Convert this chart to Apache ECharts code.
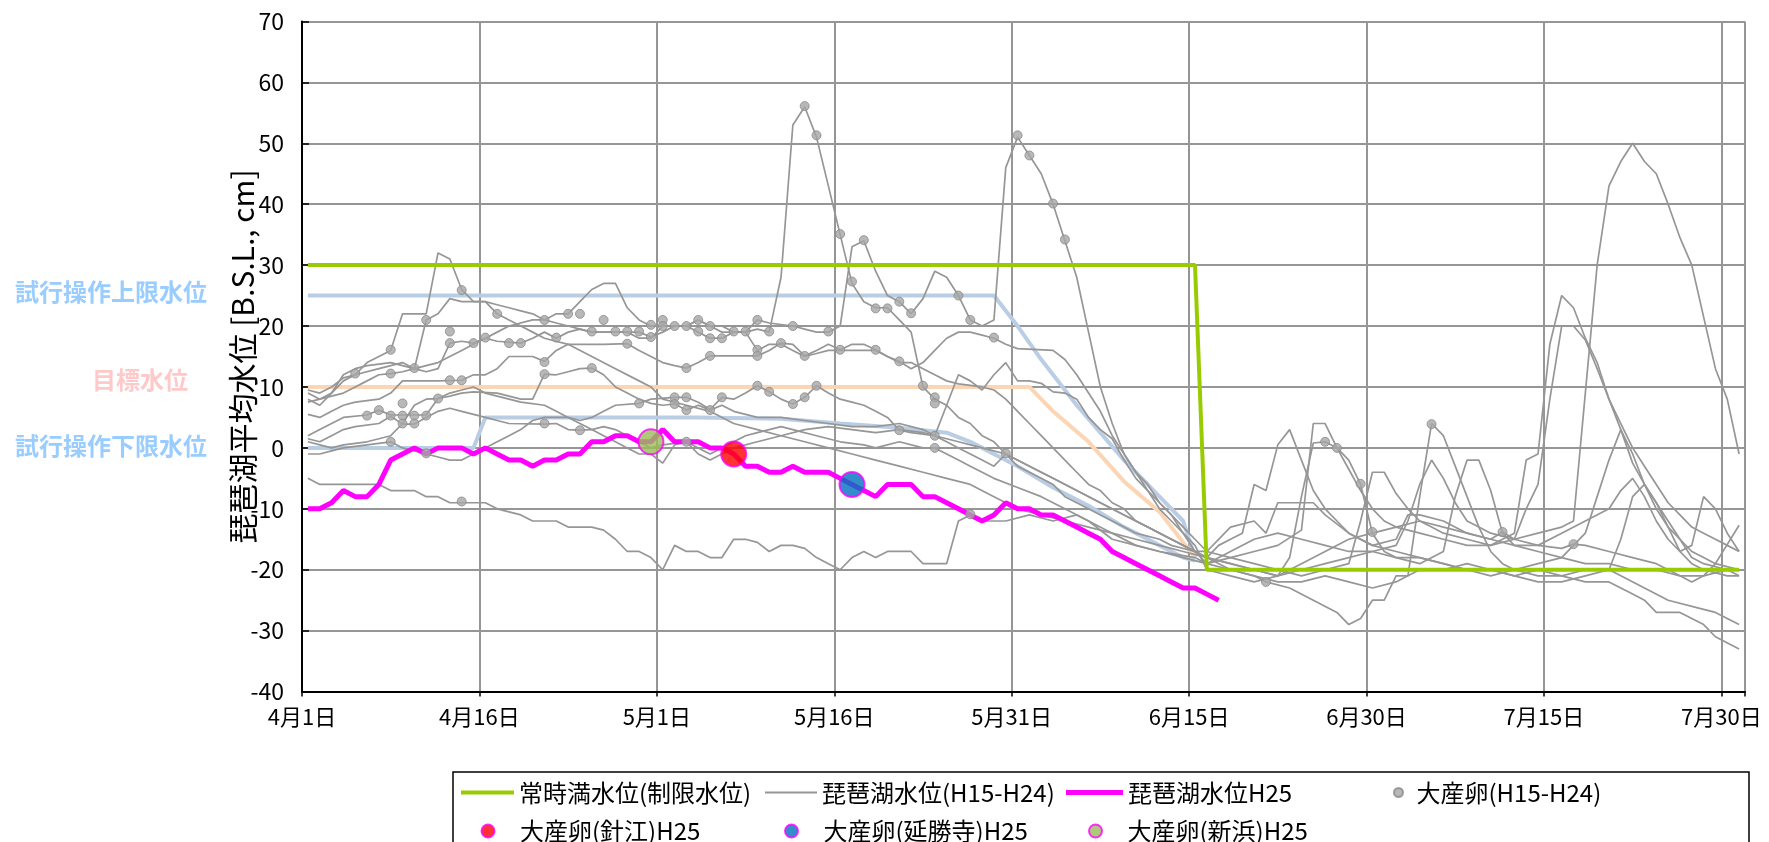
<!DOCTYPE html>
<html><head><meta charset="utf-8">
<script src="https://cdn.jsdelivr.net/npm/echarts@6/dist/echarts.min.js"></script>
<style>html,body{margin:0;padding:0;background:#fff}#c{width:1769px;height:842px}</style>
</head><body><div id="c"></div>
<script>
// ---- tick labels (days from 4月1日) ----
const tickLabels = ['4月1日','4月16日','5月1日','5月16日','5月31日','6月15日','6月30日','7月15日','7月30日'];

// ---- reference levels [day, cm] ----
const fullLevel   = [[0,30],[75,30],[76,-20],[121,-20]];
const upperLimit  = [[0,25],[58,25],[60,20],[62,14.5],[65,7],[69,-2],[72,-8],[74,-12],[75,-18]];
const targetLevel = [[0,10],[61,10],[63,6],[66,1],[69,-5.5],[72,-10.5],[75,-18]];
const lowerLimit  = [[0,0],[14,0],[15,5],[33,5],[40,4.8],[45,4],[50,3.3],[54,2.5],[56,1],[57,0],[60,-3],[63,-6.5],[66,-9.5],[69,-13],[72,-16],[74,-18],[75,-18.5]];

// ---- H25 daily level from 4月1日 ----
const h25Level = [-10,-10,-9,-7,-8,-8,-6,-2,-1,0,-1,0,0,0,-1,0,-1,-2,-2,-3,-2,-2,-1,-1,1,1,2,2,1,1,3,1,1,1,0,0,-1,-3,-3,-4,-4,-3,-4,-4,-4,-5,-6,-7,-8,-6,-6,-6,-8,-8,-9,-10,-11,-12,-11,-9,-10,-10,-11,-11,-12,-13,-14,-15,-17,-18,-19,-20,-21,-22,-23,-23,-24,-25];

// ---- H15-H24 levels [day, cm] ----
const past1 = [[0,-5],[1,-6],[6,-6],[7,-7],[9,-7],[10,-8],[11,-8],[12,-9],[15,-9],[16,-10],[17,-10.5],[18,-11],[19,-12],[21,-12],[22,-13],[24,-13],[25,-13.5],[26,-15],[27,-17],[28,-17],[29,-18],[30,-20],[31,-16],[32,-17],[33,-17],[34,-18],[35,-18],[36,-15],[37,-15],[38,-15.5],[39,-17],[40,-16],[41,-16],[42,-16.5],[43,-18],[44,-19],[45,-20],[46,-18],[47,-17],[48,-18],[49,-17],[51,-17],[52,-19],[54,-19],[55,-12],[56,-11],[57,-12],[59,-12],[61,-11],[63,-12],[65,-11],[66,-12],[68,-15],[70,-16],[72,-17],[74,-18],[76,-19],[78,-20],[80,-21],[81,-22],[83,-23],[85,-25],[87,-27],[88,-29],[89,-28],[90,-25],[91,-25],[92,-21],[93,-21],[94,-20],[96,-20],[98,-19],[100,-20],[102,-21],[104,-20],[106,-21],[108,-22],[110,-22],[111,-23],[112,-24],[113,-25],[114,-27],[116,-27],[117,-28],[118,-29],[119,-31],[121,-33]];
const past2 = [[0,8],[1,7],[2,9],[3,11],[4,12],[5,14],[6,15],[7,16],[8,22],[10,22],[11,32],[12,31],[13,26],[14,24],[15,24],[16,22],[17,21],[18,20],[19,19],[20,18],[22,17],[24,15],[26,13],[28,11],[29,10],[30,8],[32,7],[34,6],[36,4],[38,3],[40,2],[42,1],[44,0],[46,-1],[48,-2],[50,-3],[52,-4],[54,-5],[56,-6],[58,-8],[60,-10],[62,-11],[64,-12],[66,-13],[68,-14],[70,-15],[72,-16],[74,-17],[76,-18],[78,-20],[80,-21],[82,-22],[84,-22],[86,-21],[88,-22],[90,-23],[92,-22],[93,-21],[94,-8],[95,4],[96,2],[97,-3],[98,-8],[99,-13],[100,-17],[101,-19],[102,-20],[104,-21],[106,-21],[108,-20],[110,-20],[111,-21],[113,-23],[115,-25],[118,-26.5],[119,-27],[121,-29]];
const past3 = [[0,9.5],[1,9],[2,10],[3,11.5],[4,12],[6,13],[8,14],[9,13],[10,13.5],[11,14],[12,15],[13,16],[14,17],[15,18],[16,19],[17,20],[19,21],[20,21],[21,22],[22,22],[23,24],[24,26],[25,27],[26,27],[27,23],[28,21],[29,20],[30,20],[32,20],[33,21],[34,20],[35,19],[37,19],[38,19.5],[39,19],[40,28],[41,53],[42,56],[43,51],[44,43],[45,35],[46,27],[47,24],[48,23],[49,23],[50,21],[51,19],[52,10],[53,8],[54,7],[55,5],[56,4],[57,2],[58,1],[59,-1],[61,-3],[63,-5],[65,-7],[67,-9],[69,-11],[71,-13],[73,-15],[75,-17],[76,-18],[77,-16],[78,-15],[79,-14],[80,-6],[81,-7],[82,0.5],[83,3],[84,-2],[85,-7],[86,-10],[87,-12],[88,-14],[89,-15],[90,-16],[92,-17],[94,-18],[96,-19],[98,-20],[100,-21],[102,-20],[104,-19],[106,-18],[108,-14],[109,-8],[110,-2],[111,3],[112,-1],[113,-6],[114,-10],[115,-13],[116,-15],[117,-17],[118,-18],[119,-19],[121,-20]];
const past4 = [[0,9],[1,8],[2,8.5],[3,9],[4,10],[5,11],[6,12],[7,12.2],[8,12.5],[9,13],[10,21],[11,22],[12,24.5],[13,24],[15,24],[16,23.5],[17,23],[18,22.5],[19,22],[20,21],[21,20.5],[22,20],[23,19.5],[24,19],[27,19],[28,18],[29,18],[30,20],[32,20],[33,21],[34,20],[35,20],[36,19],[37,19],[38,21],[39,20.5],[41,20],[42,19.5],[43,19],[44,19],[45,20],[46,33],[47,34],[48,29],[49,25],[50,24],[51,22],[52,24.5],[53,29],[54,28],[55,25],[56,21],[57,20],[58,21],[59,46],[60,51],[61,48],[62,45],[63,40],[64,34],[65,28],[66,19],[67,10],[68,4],[69,-1],[70,-4],[71,-7],[72,-9],[73,-11],[74,-14],[75,-17],[76,-19],[78,-18],[80,-17],[82,-16],[84,-13.5],[85,4],[86,4],[87,0],[88,-3.5],[89,-7],[90,-10],[91,-12],[92,-13],[94,-14],[96,-15],[98,-16],[100,-16],[102,-15],[103,-10],[104,-6],[105,8],[106,20],[107,20],[108,17.7],[109,13],[110,8],[111,4],[112,0],[113,-3],[114,-6],[115,-9],[116,-11],[117,-13],[118,-14],[119,-15],[120,-16],[121,-17]];
const past5 = [[0,7.5],[1,8],[2,9],[3,12],[4,13],[5,13.5],[7,14],[8,13.5],[9,13],[10,12.5],[11,13],[12,17.2],[13,17.5],[14,17.2],[15,18],[16,17.5],[18,17.2],[19,18],[20,19],[21,18],[22,19],[23,19.5],[24,19],[28,19],[29,18.2],[30,19],[31,20],[32,20],[33,19],[34,18],[35,18],[36,19],[37,19],[38,16],[39,17],[40,17],[41,16],[42,15],[43,15.5],[44,16],[48,16],[49,15],[50,14],[51,14],[52,13],[53,12],[54,11],[55,10.5],[57,10],[58,9.5],[59,8],[60,6],[61,4],[62,2],[63,0],[64,-2],[65,-4],[66,-6],[67,-7],[68,-9],[69,-10],[70,-12],[71,-13],[72,-14],[73,-15],[74,-16],[75,-17],[76,-18],[78,-19],[80,-20],[82,-21],[83,-18],[84,-8],[85,0.8],[86,1],[87,0],[88,-2],[89,-6],[90,-14],[91,-17],[92,-18],[94,-19],[96,-17],[97,-8],[98,-2],[99,-2],[100,-7],[101,-14],[102,-16],[104,-17],[106,-18],[108,-19],[110,-19],[112,-20],[114,-20],[116,-21],[118,-21],[120,-20],[121,-20]];
const past6 = [[0,5.5],[1,5],[2,6],[3,7],[4,7.5],[6,8],[7,9],[8,11],[11,11],[13,11.1],[14,12],[15,12],[16,13],[17,15],[19,15],[20,14.2],[21,16],[22,17],[25,17],[27,17.1],[28,16],[29,15],[30,14],[31,13.5],[32,13.1],[33,14],[34,15.1],[38,15.1],[39,16],[40,17.2],[41,17],[42,15.1],[43,16],[44,17],[45,16.1],[46,17],[47,17],[48,16.1],[49,15],[50,14.2],[51,13],[52,14],[53,16],[54,18],[55,19],[56,19],[57,18.5],[58,18],[59,17],[60,16.3],[63,16],[64,14.5],[65,12],[66,9],[67,6],[68,2],[69,-1],[70,-4],[71,-6],[72,-9],[73,-11],[74,-13],[75,-15],[76,-17],[78,-18],[80,-19],[82,-20],[84,-21],[86,-20],[88,-19],[89,-12],[90,-4],[91,-4],[92,-7.5],[93,-10],[94,-12],[95,-13],[96,-14],[98,-15],[100,-16],[101,-15],[102,-14],[103,-2],[104,-1],[105,17],[106,25],[107,23],[108,18],[109,14],[110,8],[111,3],[112,-2.5],[113,-6],[114,-9],[115,-12],[116,-15],[117,-18],[118,-19],[120,-20],[121,-21]];
const past7 = [[0,2],[1,3],[2,4],[3,5],[5,5.4],[6,6.2],[7,5.4],[10,5.4],[11,8.1],[12,9],[13,9.5],[14,10],[15,9],[16,8.5],[17,8],[18,7.5],[20,7],[21,6],[22,5],[23,4.5],[24,5],[25,6],[26,7],[28,7.3],[29,8],[31,8.3],[32,8.3],[33,7.5],[34,6.3],[35,8.3],[36,8],[37,9],[38,10.2],[39,9.2],[40,8],[41,7.2],[42,8.3],[43,10.2],[44,9],[45,8],[46,7.5],[47,7],[48,6],[49,5],[50,2.9],[51,2.5],[53,2],[54,1],[55,0],[56,-1],[57,-2],[58,-3],[59,-1],[60,-3],[61,-4],[62,-5],[63,-6],[64,-8],[65,-9],[66,-10],[67,-11],[68,-12],[69,-13],[70,-14],[72,-15],[73,-16],[75,-17],[76,-18],[78,-19],[80,-20],[82,-21],[84,-20],[86,-19],[88,-18],[90,-17],[92,-16],[93,-12],[94,-6],[95,-2],[96,-5],[97,-9],[98,-12],[99,-13],[100,-14],[102,-15],[104,-14],[106,-13],[107,-12],[108,9],[109,30],[110,43],[111,47],[112,50],[113,47],[114,45],[115,40],[116,34.5],[117,30],[118,21.5],[119,13],[120,8],[121,-1]];
const past8 = [[0,1.5],[1,1],[2,2],[3,3],[4,3.5],[6,4],[7,5.2],[8,3.9],[9,3.9],[10,5],[11,6],[12,6.5],[13,6],[14,5.5],[15,5],[16,4.5],[17,4],[20,3.9],[21,4],[22,3],[23,2.9],[24,3],[25,3.5],[26,3],[27,2],[28,1],[29,0],[30,0.5],[32,1],[33,0],[34,-1],[35,0],[36,1],[37,2],[38,2.5],[39,3],[40,3.5],[41,3],[43,2],[45,1],[47,0.5],[48,0],[50,1],[52,0],[53,0],[54,-1],[55,-2],[56,-3],[57,-4],[58,-5],[60,-6.5],[62,-8],[64,-10],[66,-12],[68,-14],[70,-16],[72,-17],[75,-18],[76,-19],[78,-17],[80,-15],[82,-14],[84,-15],[86,-16],[88,-17],[90,-17],[92,-18],[94,-18],[96,-19],[98,-20],[100,-20],[102,-21],[104,-22],[106,-22],[108,-21],[110,-20],[111,-15],[112,-8],[113,-6],[114,-9],[115,-13],[116,-17],[117,-19],[118,-20],[120,-21],[121,-21]];
const past9 = [[0,-1],[1,-1],[2,-0.5],[3,0],[5,0.5],[7,1],[8,0],[9,-0.5],[10,-1],[11,-1.5],[12,-2],[13,-2],[14,-1],[15,0],[16,1],[17,2],[18,3],[19,4.5],[20,5],[22,5],[23,4],[24,3],[25,2],[26,1],[27,0],[28,-1],[29,-1],[30,-2.5],[31,0.5],[32,1],[33,-1],[34,-2],[35,-1],[36,0],[38,1],[40,2],[42,3],[44,3.5],[46,3],[48,2.5],[50,3],[52,2.5],[53,2],[55,1],[57,0],[59,-1],[61,-3],[63,-5],[65,-7],[67,-9],[69,-11],[71,-13],[73,-15],[75,-17],[76,-17],[78,-13],[80,-12],[81,-14],[82,-9],[85,-9],[86,-11],[88,-14],[90,-16],[92,-15],[93,-11],[94,-11],[96,-12],[98,-14],[100,-15],[101,-13.8],[102,-15],[104,-16],[106,-16.5],[107,-15.8],[108,-16],[110,-17],[112,-18],[114,-19],[116,-21],[117,-22],[118,-21],[119,-19],[121,-12.7]];
const past10 = [[0,1],[1,0.5],[2,0],[3,0.5],[5,1],[6,1.5],[7,2],[8,4],[9,7],[10,8],[11,8.1],[12,8.5],[13,9],[14,9.2],[16,9],[17,8.5],[18,8],[19,8],[20,12.1],[21,12],[22,12.5],[23,13],[24,13.1],[25,12],[26,10],[27,9],[28,8],[29,7.3],[30,7],[31,7.2],[32,6.2],[33,7],[34,6.2],[35,7],[36,6],[37,5.5],[38,5],[40,5],[42,4.5],[44,4],[46,3.5],[48,3.5],[50,4],[52,3],[53,2],[54,7],[55,12],[56,11],[57,9.5],[58,12],[59,14],[60,11],[61,11],[62,10.6],[63,9.2],[64,9],[65,8],[66,5],[67,3],[68,1.5],[69,-2],[70,-5],[71,-7],[72,-10],[73,-12],[74,-14],[75,-16],[76,-20],[78,-21],[80,-22],[82,-21],[84,-19],[86,-17],[88,-15],[90,-14],[92,-13],[94,-12],[96,-13],[98,-14],[100,-15],[102,-16],[104,-16],[106,-14],[108,-12],[110,-10],[111,-7],[112,-5],[113,-8],[114,-12],[115,-15],[116,-17],[117,-16],[118,-8],[119,-10],[120,-14],[121,-17]];

// ---- spawning events [day, cm] ----
const spawnPast = [[4,12.2],[7,16.1],[10,21],[13,25.9],[16,22],[12,19.1],[12,17.2],[14,17.2],[15,18.1],[17,17.2],[18,17.2],[9,13.1],[7,12.2],[12,11.1],[13,11.1],[11,8.1],[6,6.2],[5,5.3],[7,5.3],[8,5.3],[9,5.3],[10,5.3],[8,7.3],[8,4],[9,4],[7,1],[10,-0.9],[13,-8.8],
 [20,21],[22,22],[23,22],[25,21],[20,14.1],[20,12.1],[21,18.1],[24,19.1],[24,13.1],[20,4],[23,2.9],
 [26,19.1],[27,19.1],[27,17.1],[28,19.1],[29,18.2],[29,20.2],[30,21],[30,20],[31,20],[32,20],[33,21],[33,19.1],[34,20],[34,18],[35,18],[36,19.1],[37,19.1],[38,21],[28,7.3],[31,8.3],[31,7.2],[32,8.3],[32,6.2],[34,6.2],[35,8.3],[38,10.2],[39,9.2],[32,13.1],[34,15.1],[38,16.1],[38,15.1],[32,1],
 [39,19.1],[41,20],[44,19.1],[40,17.2],[42,15.1],[45,16.1],[48,16.1],[50,14.2],[41,7.2],[42,8.3],[43,10.2],[52,10.2],[53,8.3],[53,7.3],
 [42,56.1],[43,51.3],[45,35.1],[46,27.3],[47,34.1],[48,22.9],[49,22.9],[50,24],[51,22.1],[55,25],[56,21],[58,18.1],[60,51.3],[61,48],[63,40.1],[64,34.2],
 [50,2.9],[53,2],[53,0],[59,-0.9],[56,-10.9],
 [81,-22],[86,1],[87,0],[89,-5.9],[90,-13.8],[95,3.9],[101,-13.8],[107,-15.8]];
const spawnHarie    = [[36,-1]];
const spawnEnshoji  = [[46,-6]];
const spawnShinhama = [[29,1]];

const FONT = '"Noto Sans CJK JP", "Noto Sans CJK SC", sans-serif';
const GRAYLINE = '#969696';
const shift = p => p.map(([d, v]) => [d + 0.5, v]);
const pastLines = [past1, past2, past3, past4, past5, past6, past7, past8, past9, past10];

const series = [];
const refLine = (name, data, color) => ({
  name, type: 'line', data: shift(data), symbol: 'none', silent: true,
  lineStyle: { color, width: 4 }, z: 1
});
series.push(refLine('試行操作上限水位', upperLimit, '#B9CDE5'));
series.push(refLine('目標水位', targetLevel, '#FCD5B5'));
series.push(refLine('試行操作下限水位', lowerLimit, '#B9CDE5'));
pastLines.forEach(p => series.push({
  name: '琵琶湖水位(H15-H24)', type: 'line', data: shift(p), symbol: 'none',
  color: GRAYLINE, lineStyle: { color: GRAYLINE, width: 1.7 }, z: 2
}));
series.push({ name: '常時満水位(制限水位)', type: 'line', data: shift(fullLevel), symbol: 'none',
  color: '#99CC00', lineStyle: { color: '#99CC00', width: 4 }, z: 3 });
series.push({ name: '琵琶湖水位H25', type: 'line', data: h25Level.map((v, i) => [i + 0.5, v]), symbol: 'none',
  color: '#FF00FF', lineStyle: { color: '#FF00FF', width: 5 }, z: 4 });
series.push({ name: '大産卵(H15-H24)', type: 'scatter', data: shift(spawnPast), symbol: 'circle', symbolSize: 9,
  itemStyle: { color: '#A6A6A6', borderColor: '#8A8A8A', borderWidth: 1 }, z: 5 });
const bigMark = (name, data, color) => ({
  name, type: 'scatter', data: shift(data), symbol: 'circle', symbolSize: 25,
  itemStyle: { color, borderColor: '#FF00FF', borderWidth: 2 }, z: 6
});
series.push(bigMark('大産卵(針江)H25', spawnHarie, '#FF0000'));
series.push(bigMark('大産卵(延勝寺)H25', spawnEnshoji, '#0070C0'));
series.push(bigMark('大産卵(新浜)H25', spawnShinhama, '#9BBB59'));

const lg = (name, left, top, icon, itemWidth, itemHeight, padLeft) => ({
  data: [name], left, top, icon, itemWidth, itemHeight, symbolKeepAspect: false,
  padding: 0, itemGap: 0, selectedMode: false,
  textStyle: { fontSize: 24, color: '#000', fontFamily: FONT, padding: [0, 0, 0, padLeft] }
});
const legends = [
  lg('常時満水位(制限水位)', 461, 780.5, 'rect', 53, 4, 0),
  lg('琵琶湖水位(H15-H24)', 765, 780.5, 'rect', 52, 2, 0),
  lg('琵琶湖水位H25', 1066, 780.5, 'rect', 57, 5, 0),
  lg('大産卵(H15-H24)', 1393, 780.5, 'circle', 12, 9, 7),
  lg('大産卵(針江)H25', 480.5, 819, 'circle', 18, 13, 18),
  lg('大産卵(延勝寺)H25', 784, 819, 'circle', 18, 13, 18),
  lg('大産卵(新浜)H25', 1088, 819, 'circle', 18, 13, 18)
];

const annot = (text, x, y, color) => ({
  type: 'text', left: x, top: y, silent: true,
  style: { text, fill: color, font: 'bold 24px ' + FONT }
});

const chart = echarts.init(document.getElementById('c'));
chart.setOption({
  animation: false,
  backgroundColor: '#fff',
  textStyle: { fontFamily: FONT },
  grid: { left: 302, right: 24, top: 21.4, bottom: 150.4, containLabel: false },
  xAxis: {
    type: 'value', min: 0, max: 122, interval: 15,
    axisLine: { show: true, onZero: false, lineStyle: { color: '#000', width: 2 } },
    axisTick: { show: true, inside: false, length: 5, lineStyle: { color: '#000', width: 1.5 } },
    splitLine: { show: true, lineStyle: { color: GRAYLINE, width: 2 } },
    axisLabel: { fontSize: 22, color: '#000', margin: 14, fontFamily: FONT,
      formatter: v => { const i = v / 15; return Number.isInteger(i) && i < tickLabels.length ? tickLabels[i] : ''; } }
  },
  yAxis: {
    type: 'value', min: -40, max: 70, interval: 10,
    name: '琵琶湖平均水位 [B.S.L., cm]', nameLocation: 'middle', nameGap: 44, nameMoveOverlap: false,
    nameTextStyle: { fontSize: 30, color: '#000', fontFamily: FONT },
    axisLine: { show: true, lineStyle: { color: '#000', width: 2 } },
    axisTick: { show: true, inside: true, length: 7, lineStyle: { color: '#000', width: 1.5 } },
    splitLine: { show: true, lineStyle: { color: GRAYLINE, width: 2 } },
    axisLabel: { fontSize: 23, color: '#000', margin: 18, fontFamily: FONT }
  },
  legend: legends,
  graphic: [
    { type: 'rect', silent: true, shape: { x: 453, y: 772, width: 1296, height: 120 },
      style: { fill: 'none', stroke: '#000', lineWidth: 1.5 } },
    annot('試行操作上限水位', 15, 280, '#99CCFF'),
    annot('目標水位', 92, 368, '#FFC9C9'),
    annot('試行操作下限水位', 15, 434, '#99CCFF')
  ],
  series
});
</script>
</body></html>
